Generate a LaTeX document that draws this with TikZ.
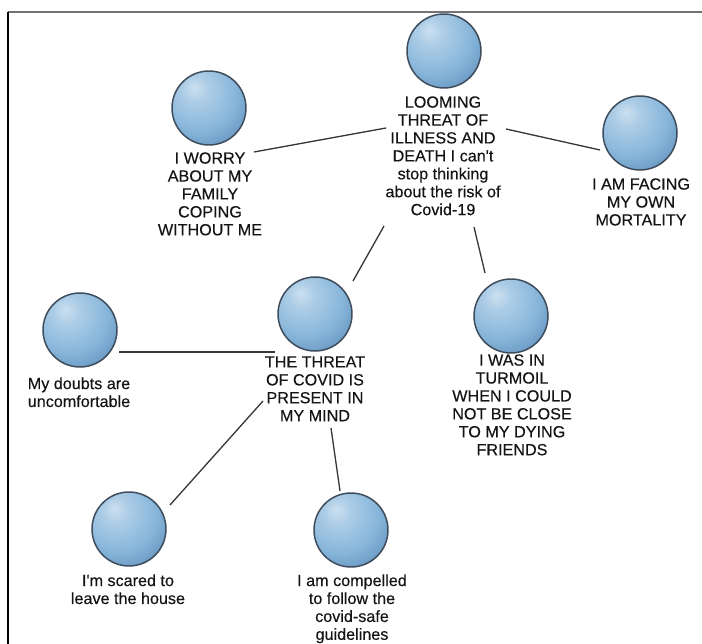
\documentclass[tikz,border=0pt]{standalone}
\usepackage{fontspec}
\setmainfont{Liberation Sans}
\newfontfamily\capfont[FakeBold=0.3]{Liberation Sans}
\usetikzlibrary{calc}

\definecolor{sphHi}{RGB}{204,224,240}
\definecolor{sphMid}{RGB}{134,181,218}
\definecolor{sphEdge}{RGB}{94,140,184}
\definecolor{sphLine}{RGB}{62,76,92}
\definecolor{linkGray}{RGB}{55,55,55}
\definecolor{txtGray}{RGB}{20,20,20}

% glossy blue sphere used for every concept
\pgfdeclareradialshading{sphere}{\pgfpoint{-10bp}{14bp}}{%
  color(0bp)=(sphHi);
  color(9bp)=(sphHi!55!sphMid);
  color(26bp)=(sphMid);
  color(42bp)=(sphEdge);
  color(50bp)=(sphEdge!85!black);
  color(100bp)=(sphEdge!85!black)}

\begin{document}
\begin{tikzpicture}[x=0.02cm, y=-0.02cm,
  ball/.style={circle, minimum size=1.48cm, inner sep=0pt,
    shading=sphere, draw=sphLine, line width=0.85pt},
  caption/.style={anchor=north, align=center, inner sep=0pt, text=txtGray,
    font=\capfont\fontsize{9.2}{10.2}\selectfont},
  link/.style={draw=linkGray, line width=0.75pt},
  frameline/.style={line width=1.2pt}]

\useasboundingbox (0,0) rectangle (702,644);

% frame along top and left edges
\draw[frameline, draw=black!55] (8,12) -- (702,12);
\draw[frameline, draw=black] (8,12) -- (8,644);

% concepts: sphere + caption
\node[ball] (loom) at (444,51) {};
\node[caption] (loom-t) at (443,96) {LOOMING\\THREAT OF\\ILLNESS AND\\DEATH I can't\\stop thinking\\about the risk of\\Covid-19};

\node[ball] (worry) at (209,108) {};
\node[caption] (worry-t) at (210,152) {I WORRY\\ABOUT MY\\FAMILY\\COPING\\WITHOUT ME};

\node[ball] (facing) at (640,133) {};
\node[caption] (facing-t) at (641,178) {I AM FACING\\MY OWN\\MORTALITY};

\node[ball] (threat) at (315,314) {};
\node[caption] (threat-t) at (315,356) {THE THREAT\\OF COVID IS\\PRESENT IN\\MY MIND};

\node[ball] (turmoil) at (511,316) {};
\node[caption] (turmoil-t) at (512,354) {I WAS IN\\TURMOIL\\WHEN I COULD\\NOT BE CLOSE\\TO MY DYING\\FRIENDS};

\node[ball] (doubts) at (80,330) {};
\node[caption] (doubts-t) at (79,377) {My doubts are\\uncomfortable};

\node[ball] (scared) at (129,529) {};
\node[caption] (scared-t) at (128,574) {I'm scared to\\leave the house};

\node[ball] (compelled) at (351,530) {};
\node[caption] (compelled-t) at (352,574) {I am compelled\\to follow the\\covid-safe\\guidelines};

% links between concepts
\draw[link] ($(worry)+(45,44)$) -- ($(loom)+(-58,77)$);
\draw[link] ($(loom)+(62,78)$) -- ($(facing)+(-40,17)$);
\draw[link] ($(loom)+(-60,175)$) -- ($(threat)+(38,-33)$);
\draw[link] ($(loom)+(30,176)$) -- ($(turmoil)+(-26,-43)$);
\draw[link] ($(threat)+(-40,38)$) -- ($(doubts)+(39,22)$);
\draw[link] ($(threat)+(-52,87)$) -- ($(scared)+(41,-24)$);
\draw[link] ($(threat)+(16,114)$) -- ($(compelled)+(-11,-39)$);

\end{tikzpicture}
\end{document}
